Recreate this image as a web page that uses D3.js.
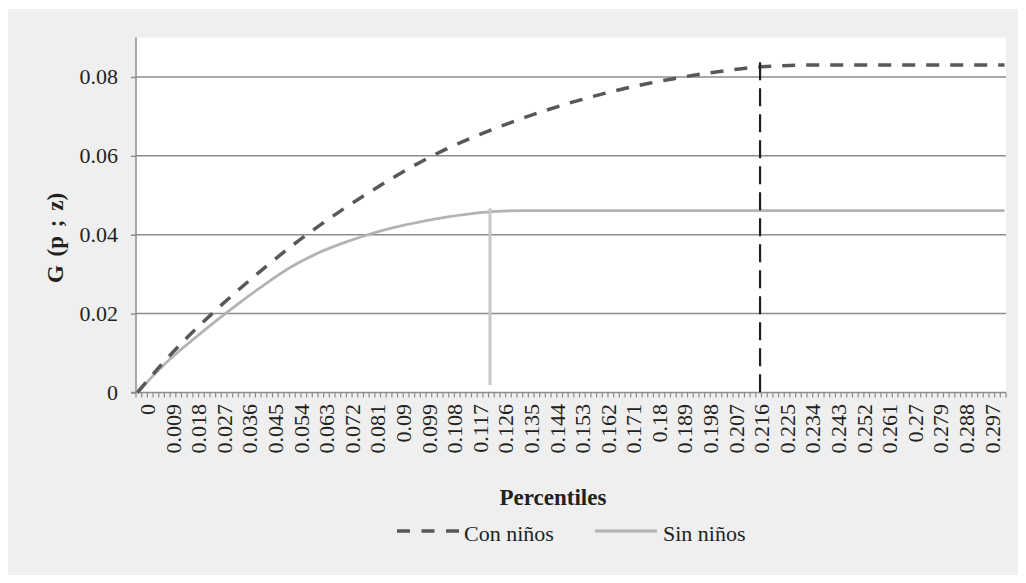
<!DOCTYPE html>
<html>
  <head>
    <script src="https://d3js.org/d3.v7.min.js"></script>
    <style>
      body { margin: 0; background: #fff; }
      text { font-family: "Liberation Serif", "DejaVu Serif", serif; fill: #231f20; }
    </style>
  </head>
  <body>
    <svg id="chart" width="1026" height="583"></svg>
    <script>
      // Percentile categories on the axis (0 .. 0.305, step 0.001)
      var categories = d3.range(0, 306).map(function(i) { return (i / 1000).toFixed(3); });
      var yTicks = [0, 0.02, 0.04, 0.06, 0.08];

      // Values
      var conX = ["0.000","0.009","0.018","0.027","0.036","0.045","0.054","0.063","0.072","0.081","0.090",
                  "0.099","0.108","0.117","0.126","0.135","0.144","0.153","0.162","0.171","0.180","0.189",
                  "0.198","0.207","0.216","0.225","0.234","0.243","0.270","0.305"];
      var conY = [0, 0.0075, 0.0143, 0.0205, 0.0263, 0.0318, 0.0370, 0.0418, 0.0463, 0.0505, 0.0545,
                  0.0582, 0.0615, 0.0644, 0.0670, 0.0694, 0.0716, 0.0736, 0.0754, 0.0770, 0.0784, 0.0796,
                  0.0807, 0.0816, 0.0824, 0.0828, 0.0830, 0.0830, 0.0830, 0.0830];
      var sinX = ["0.000","0.009","0.018","0.027","0.036","0.045","0.054","0.063","0.072","0.081","0.090",
                  "0.099","0.108","0.117","0.126","0.135","0.144","0.200","0.305"];
      var sinY = [0, 0.0068, 0.0125, 0.0178, 0.0228, 0.0275, 0.0318, 0.0352, 0.0378, 0.0400, 0.0418,
                  0.0432, 0.0444, 0.0453, 0.0459, 0.0461, 0.0461, 0.0461, 0.0461];

      // vertical marker lines
      var markerX = ["0.124", "0.219"];
      var markerTop = [0.0467, 0.0837];
      var markerBottom = [0.0019, 0];

      var seriesNames = ["Con niños", "Sin niños"];

      var svg = d3.select("#chart");

      // gray panel
      svg.append("rect").attr("x", 8).attr("y", 9).attr("width", 1010).attr("height", 566)
        .attr("fill", "#efefef");

      var pLeft = 136, pRight = 1006, pTop = 37.5, pBottom = 392.5;

      var x = d3.scaleBand().domain(categories).range([pLeft, pRight]).padding(0);
      var y = d3.scaleLinear().domain([0, 0.09]).range([pBottom, pTop]);
      var cx = function(c) { return x(c) + x.bandwidth() / 2; };

      // plot area
      svg.append("rect").attr("x", pLeft).attr("y", pTop).attr("width", pRight - pLeft).attr("height", pBottom - pTop)
        .attr("fill", "#fff");

      // gridlines
      svg.selectAll(".grid").data(yTicks.filter(function(d) { return d > 0; })).enter()
        .append("line")
        .attr("x1", pLeft).attr("x2", pRight)
        .attr("y1", function(d) { return y(d); }).attr("y2", function(d) { return y(d); })
        .attr("stroke", "#8c8c8c").attr("stroke-width", 1.5);

      // y axis
      var yAxis = d3.axisLeft(y).tickValues(yTicks).tickSize(5)
        .tickFormat(function(d) { return d === 0 ? "0" : d3.format(".2f")(d); });
      var gy = svg.append("g").attr("transform", "translate(" + pLeft + ",0)").call(yAxis);
      gy.select(".domain").attr("stroke", "#8c8c8c").attr("stroke-width", 1.5)
        .attr("d", "M0," + pTop + "V" + pBottom);
      gy.selectAll(".tick line").attr("stroke", "#8c8c8c").attr("stroke-width", 1.5);
      gy.selectAll(".tick text").attr("x", -18).attr("font-size", 22).attr("fill", "#231f20")
        .style("font-family", "Liberation Serif");

      // x axis line and ticks
      svg.append("line").attr("x1", pLeft - 5).attr("x2", pRight).attr("y1", pBottom).attr("y2", pBottom)
        .attr("stroke", "#8c8c8c").attr("stroke-width", 1.5);
      var tickCats = categories.filter(function(c, i) { return i % 2 === 0; });
      svg.selectAll(".xtick").data(tickCats).enter().append("line")
        .attr("x1", function(d) { return x(d); }).attr("x2", function(d) { return x(d); })
        .attr("y1", pBottom).attr("y2", pBottom + 5)
        .attr("stroke", "#8c8c8c").attr("stroke-width", 1.2);
      svg.append("line").attr("x1", pRight).attr("x2", pRight).attr("y1", pBottom).attr("y2", pBottom + 5)
        .attr("stroke", "#8c8c8c").attr("stroke-width", 1.2);

      // x tick labels every 9 categories
      var labelCats = categories.filter(function(c, i) { return i % 9 === 0 && i <= 297; });
      svg.selectAll(".xlab").data(labelCats).enter().append("text")
        .attr("transform", function(d) { return "translate(" + (cx(d) + 10) + "," + 404 + ") rotate(-90)"; })
        .attr("text-anchor", "end").attr("dy", "0.35em").attr("font-size", 22)
        .text(function(d) { return String(+d); });

      // lines
      var line = d3.line()
        .x(function(d) { return cx(d[0]); })
        .y(function(d) { return y(d[1]); })
        .curve(d3.curveMonotoneX);

      svg.append("path").datum(d3.zip(sinX, sinY)).attr("d", line)
        .attr("fill", "none").attr("stroke", "#b3b3b3").attr("stroke-width", 2.8);

      svg.append("path").datum(d3.zip(conX, conY)).attr("d", line)
        .attr("fill", "none").attr("stroke", "#58585a").attr("stroke-width", 3.5)
        .attr("stroke-dasharray", "13,11");

      // markers
      svg.append("line")
        .attr("x1", cx(markerX[0])).attr("x2", cx(markerX[0]))
        .attr("y1", y(markerTop[0])).attr("y2", y(markerBottom[0]))
        .attr("stroke", "#c8c8c8").attr("stroke-width", 3);
      svg.append("line")
        .attr("x1", cx(markerX[1])).attr("x2", cx(markerX[1]))
        .attr("y1", y(markerTop[1])).attr("y2", y(markerBottom[1]))
        .attr("stroke", "#1e1e1e").attr("stroke-width", 2.2).attr("stroke-dasharray", "18,8");

      // axis titles
      svg.append("text").attr("x", 553).attr("y", 505).attr("text-anchor", "middle")
        .attr("font-size", 23).attr("font-weight", "bold").text("Percentiles");
      svg.append("text").attr("transform", "translate(55,238) rotate(-90)").attr("text-anchor", "middle")
        .attr("dy", "0.35em").attr("font-size", 23).attr("font-weight", "bold")
        .attr("word-spacing", 3).text("G (p ; z)");

      // legend
      var legend = svg.append("g");
      legend.append("line").attr("x1", 397).attr("x2", 459).attr("y1", 531).attr("y2", 531)
        .attr("stroke", "#58585a").attr("stroke-width", 3.5).attr("stroke-dasharray", "13,11.5");
      legend.append("text").attr("x", 464).attr("y", 541).attr("font-size", 22).text(seriesNames[0]);
      legend.append("line").attr("x1", 595).attr("x2", 657).attr("y1", 531).attr("y2", 531)
        .attr("stroke", "#b3b3b3").attr("stroke-width", 2.8);
      legend.append("text").attr("x", 663).attr("y", 541).attr("font-size", 22).text(seriesNames[1]);
    </script>
  </body>
</html>
